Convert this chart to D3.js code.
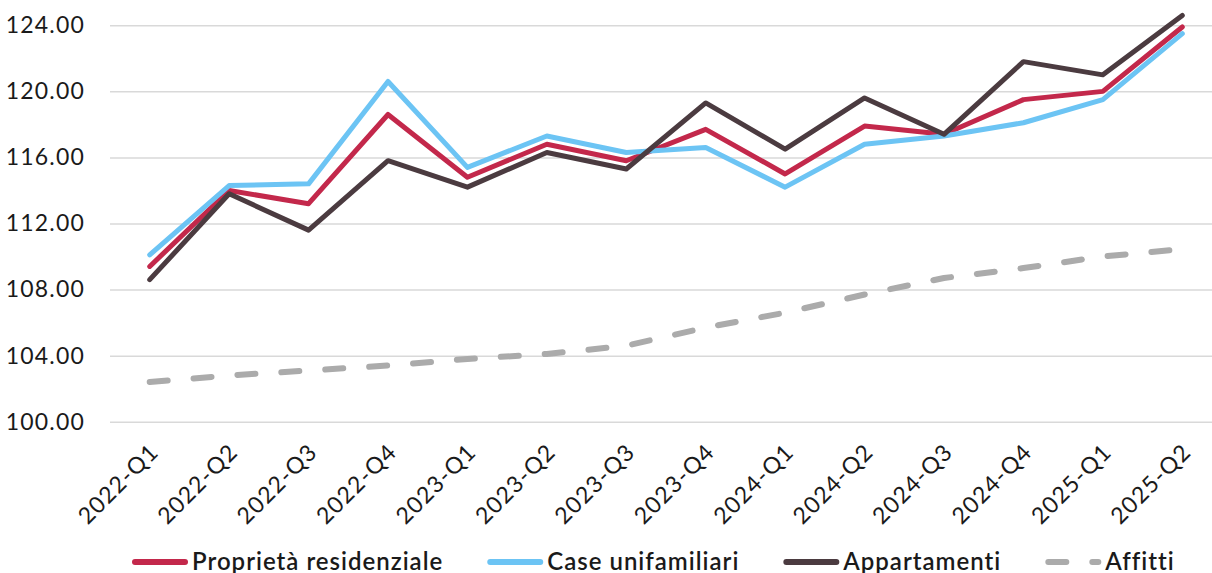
<!DOCTYPE html>
<html>
<head>
<meta charset="utf-8">
<script src="https://cdn.jsdelivr.net/npm/d3@7"></script>
<style>
  html, body { margin: 0; padding: 0; background: #ffffff; }
  svg { display: block; }
  text { font-family: Lato, "Open Sans", sans-serif; fill: #1a1a1a; }
</style>
</head>
<body>
<div id="chart"></div>
<script>
const categories = ["2022-Q1","2022-Q2","2022-Q3","2022-Q4","2023-Q1","2023-Q2","2023-Q3","2023-Q4","2024-Q1","2024-Q2","2024-Q3","2024-Q4","2025-Q1","2025-Q2"];
const proprieta = [109.4, 114.0, 113.2, 118.6, 114.8, 116.8, 115.8, 117.7, 115.0, 117.9, 117.4, 119.5, 120.0, 123.9];
const case_unifamiliari = [110.1, 114.3, 114.4, 120.6, 115.4, 117.3, 116.3, 116.6, 114.2, 116.8, 117.3, 118.1, 119.5, 123.5];
const appartamenti = [108.6, 113.8, 111.6, 115.8, 114.2, 116.3, 115.3, 119.3, 116.5, 119.6, 117.4, 121.8, 121.0, 124.6];
const affitti = [102.4, 102.8, 103.1, 103.4, 103.8, 104.1, 104.6, 105.7, 106.6, 107.7, 108.7, 109.3, 110.0, 110.45];
const yTicks = [100, 104, 108, 112, 116, 120, 124];
const seriesNames = ["Proprietà residenziale", "Case unifamiliari", "Appartamenti", "Affitti"];

const W = 1212, H = 573;
const svg = d3.select("#chart").append("svg").attr("width", W).attr("height", H);

const x = d3.scalePoint().domain(categories).range([110, 1222]).padding(0.5);
const y = d3.scaleLinear().domain([100, 124]).range([421.7, 25.3]);

const series = [
  { name: seriesNames[0], values: proprieta, color: "#c3284b", dash: null, width: 5 },
  { name: seriesNames[1], values: case_unifamiliari, color: "#6cc4f4", dash: null, width: 5 },
  { name: seriesNames[2], values: appartamenti, color: "#4b3b40", dash: null, width: 5 },
  { name: seriesNames[3], values: affitti, color: "#ababab", dash: "18,26", width: 6 }
];

// gridlines + y axis labels
const yAxis = d3.axisLeft(y).tickValues(yTicks).tickSize(-(1222 - 110)).tickFormat(d3.format(".2f")).tickPadding(25);
const gy = svg.append("g").attr("transform", "translate(110,0)").call(yAxis);
gy.select(".domain").remove();
gy.selectAll(".tick line").attr("stroke", "#d9d9d9").attr("stroke-width", 1.5);
gy.selectAll(".tick text").attr("font-size", 23).attr("fill", "#1a1a1a")
  .attr("letter-spacing", "1.2px")
  .style("font-family", "Lato, 'Open Sans', sans-serif");

// x axis labels
const xAxis = d3.axisBottom(x).tickSize(0).tickPadding(0);
const gx = svg.append("g").attr("transform", "translate(0,421.7)").call(xAxis);
gx.select(".domain").remove();
gx.selectAll(".tick text")
  .attr("font-size", 23).attr("fill", "#1a1a1a")
  .attr("letter-spacing", "1.2px")
  .style("font-family", "Lato, 'Open Sans', sans-serif")
  .attr("text-anchor", "end")
  .attr("dy", "0.35em").attr("y", 0)
  .attr("transform", "translate(4,26) rotate(-45)");

// lines
const line = d3.line().x((d, i) => x(categories[i])).y(d => y(d));
const drawOrder = [3, 0, 1, 2];
drawOrder.forEach(k => {
  const s = series[k];
  svg.append("path").datum(s.values)
    .attr("d", line)
    .attr("fill", "none")
    .attr("stroke", s.color)
    .attr("stroke-width", s.width)
    .attr("stroke-linejoin", "round")
    .attr("stroke-linecap", "round")
    .attr("stroke-dasharray", s.dash);
});

// legend
const legend = svg.append("g").attr("transform", "translate(132,562)");
let cx = 0;
series.forEach(s => {
  const g = legend.append("g").attr("transform", `translate(${cx},0)`);
  g.append("line").attr("x1", 3).attr("x2", 53).attr("y1", 0).attr("y2", 0)
    .attr("stroke", s.color).attr("stroke-width", 6).attr("stroke-linecap", "round")
    .attr("stroke-dasharray", s.dash ? "18,26" : null);
  const t = g.append("text").attr("x", 60).attr("y", 8).attr("font-size", 24).attr("font-weight", 600)
    .attr("letter-spacing", "1px")
    .text(s.name);
  cx += 60 + t.node().getComputedTextLength() + 44;
});
</script>
</body>
</html>
